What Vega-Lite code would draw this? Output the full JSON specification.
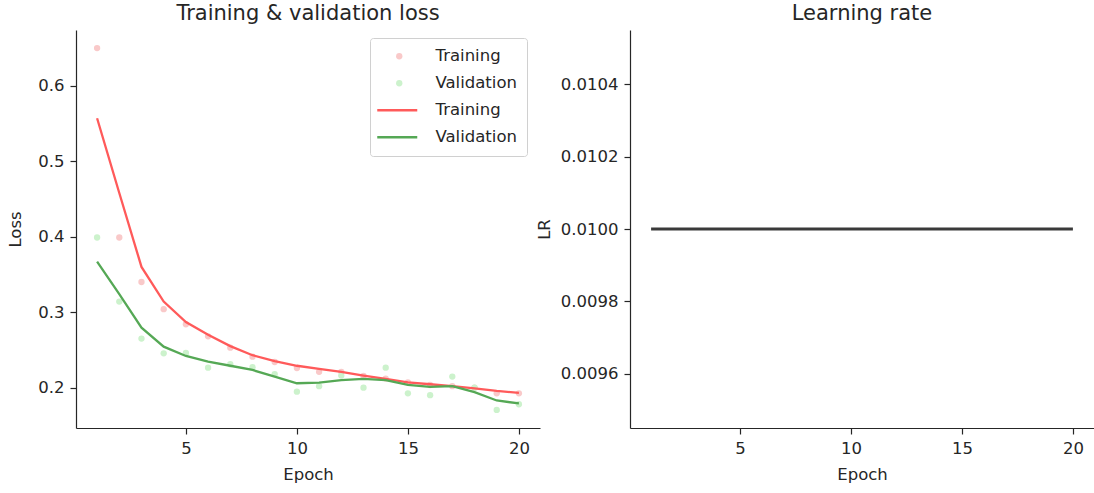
{
  "$schema": "https://vega.github.io/schema/vega-lite/v6.json",
  "background": "white",
  "padding": {"left": 7, "top": 3, "right": 0, "bottom": 0},
  "bounds": "flush",
  "spacing": 90,
  "datasets": {
    "raw": [
      {"epoch": 1, "loss": 0.650, "series": "Training (raw)"},
      {"epoch": 2, "loss": 0.399, "series": "Training (raw)"},
      {"epoch": 3, "loss": 0.340, "series": "Training (raw)"},
      {"epoch": 4, "loss": 0.304, "series": "Training (raw)"},
      {"epoch": 5, "loss": 0.284, "series": "Training (raw)"},
      {"epoch": 6, "loss": 0.268, "series": "Training (raw)"},
      {"epoch": 7, "loss": 0.253, "series": "Training (raw)"},
      {"epoch": 8, "loss": 0.241, "series": "Training (raw)"},
      {"epoch": 9, "loss": 0.234, "series": "Training (raw)"},
      {"epoch": 10, "loss": 0.226, "series": "Training (raw)"},
      {"epoch": 11, "loss": 0.221, "series": "Training (raw)"},
      {"epoch": 12, "loss": 0.221, "series": "Training (raw)"},
      {"epoch": 13, "loss": 0.2155, "series": "Training (raw)"},
      {"epoch": 14, "loss": 0.212, "series": "Training (raw)"},
      {"epoch": 15, "loss": 0.207, "series": "Training (raw)"},
      {"epoch": 16, "loss": 0.2035, "series": "Training (raw)"},
      {"epoch": 17, "loss": 0.202, "series": "Training (raw)"},
      {"epoch": 18, "loss": 0.200, "series": "Training (raw)"},
      {"epoch": 19, "loss": 0.1925, "series": "Training (raw)"},
      {"epoch": 20, "loss": 0.1925, "series": "Training (raw)"},
      {"epoch": 1, "loss": 0.399, "series": "Validation (raw)"},
      {"epoch": 2, "loss": 0.314, "series": "Validation (raw)"},
      {"epoch": 3, "loss": 0.265, "series": "Validation (raw)"},
      {"epoch": 4, "loss": 0.2455, "series": "Validation (raw)"},
      {"epoch": 5, "loss": 0.246, "series": "Validation (raw)"},
      {"epoch": 6, "loss": 0.2265, "series": "Validation (raw)"},
      {"epoch": 7, "loss": 0.231, "series": "Validation (raw)"},
      {"epoch": 8, "loss": 0.227, "series": "Validation (raw)"},
      {"epoch": 9, "loss": 0.218, "series": "Validation (raw)"},
      {"epoch": 10, "loss": 0.1947, "series": "Validation (raw)"},
      {"epoch": 11, "loss": 0.202, "series": "Validation (raw)"},
      {"epoch": 12, "loss": 0.216, "series": "Validation (raw)"},
      {"epoch": 13, "loss": 0.200, "series": "Validation (raw)"},
      {"epoch": 14, "loss": 0.2265, "series": "Validation (raw)"},
      {"epoch": 15, "loss": 0.1925, "series": "Validation (raw)"},
      {"epoch": 16, "loss": 0.190, "series": "Validation (raw)"},
      {"epoch": 17, "loss": 0.2146, "series": "Validation (raw)"},
      {"epoch": 18, "loss": 0.200, "series": "Validation (raw)"},
      {"epoch": 19, "loss": 0.1705, "series": "Validation (raw)"},
      {"epoch": 20, "loss": 0.178, "series": "Validation (raw)"}
    ],
    "smooth": [
      {"epoch": 1, "loss": 0.557, "series": "Training"},
      {"epoch": 2, "loss": 0.458, "series": "Training"},
      {"epoch": 3, "loss": 0.360, "series": "Training"},
      {"epoch": 4, "loss": 0.314, "series": "Training"},
      {"epoch": 5, "loss": 0.287, "series": "Training"},
      {"epoch": 6, "loss": 0.270, "series": "Training"},
      {"epoch": 7, "loss": 0.255, "series": "Training"},
      {"epoch": 8, "loss": 0.243, "series": "Training"},
      {"epoch": 9, "loss": 0.235, "series": "Training"},
      {"epoch": 10, "loss": 0.229, "series": "Training"},
      {"epoch": 11, "loss": 0.2248, "series": "Training"},
      {"epoch": 12, "loss": 0.221, "series": "Training"},
      {"epoch": 13, "loss": 0.216, "series": "Training"},
      {"epoch": 14, "loss": 0.2115, "series": "Training"},
      {"epoch": 15, "loss": 0.207, "series": "Training"},
      {"epoch": 16, "loss": 0.2045, "series": "Training"},
      {"epoch": 17, "loss": 0.202, "series": "Training"},
      {"epoch": 18, "loss": 0.199, "series": "Training"},
      {"epoch": 19, "loss": 0.1956, "series": "Training"},
      {"epoch": 20, "loss": 0.193, "series": "Training"},
      {"epoch": 1, "loss": 0.367, "series": "Validation"},
      {"epoch": 2, "loss": 0.324, "series": "Validation"},
      {"epoch": 3, "loss": 0.2795, "series": "Validation"},
      {"epoch": 4, "loss": 0.2543, "series": "Validation"},
      {"epoch": 5, "loss": 0.242, "series": "Validation"},
      {"epoch": 6, "loss": 0.2344, "series": "Validation"},
      {"epoch": 7, "loss": 0.229, "series": "Validation"},
      {"epoch": 8, "loss": 0.2234, "series": "Validation"},
      {"epoch": 9, "loss": 0.2146, "series": "Validation"},
      {"epoch": 10, "loss": 0.2058, "series": "Validation"},
      {"epoch": 11, "loss": 0.2066, "series": "Validation"},
      {"epoch": 12, "loss": 0.210, "series": "Validation"},
      {"epoch": 13, "loss": 0.2115, "series": "Validation"},
      {"epoch": 14, "loss": 0.210, "series": "Validation"},
      {"epoch": 15, "loss": 0.2036, "series": "Validation"},
      {"epoch": 16, "loss": 0.201, "series": "Validation"},
      {"epoch": 17, "loss": 0.202, "series": "Validation"},
      {"epoch": 18, "loss": 0.194, "series": "Validation"},
      {"epoch": 19, "loss": 0.183, "series": "Validation"},
      {"epoch": 20, "loss": 0.179, "series": "Validation"}
    ],
    "lr": [
      {"epoch": 1, "lr": 0.01}, {"epoch": 2, "lr": 0.01}, {"epoch": 3, "lr": 0.01}, {"epoch": 4, "lr": 0.01},
      {"epoch": 5, "lr": 0.01}, {"epoch": 6, "lr": 0.01}, {"epoch": 7, "lr": 0.01}, {"epoch": 8, "lr": 0.01},
      {"epoch": 9, "lr": 0.01}, {"epoch": 10, "lr": 0.01}, {"epoch": 11, "lr": 0.01}, {"epoch": 12, "lr": 0.01},
      {"epoch": 13, "lr": 0.01}, {"epoch": 14, "lr": 0.01}, {"epoch": 15, "lr": 0.01}, {"epoch": 16, "lr": 0.01},
      {"epoch": 17, "lr": 0.01}, {"epoch": 18, "lr": 0.01}, {"epoch": 19, "lr": 0.01}, {"epoch": 20, "lr": 0.01}
    ]
  },
  "hconcat": [
    {
      "width": 464,
      "height": 398,
      "title": {"text": "Training & validation loss", "fontSize": 21, "font": "DejaVu Sans", "fontWeight": "normal", "color": "#262626", "offset": 6},
      "layer": [
        {
          "data": {"name": "raw"},
          "mark": {"type": "point", "filled": true, "size": 40, "opacity": 1, "shape": "circle"},
          "encoding": {
            "x": {"field": "epoch", "type": "quantitative", "scale": {"domain": [0.05, 20.95], "nice": false, "zero": false}, "axis": {"title": "Epoch", "values": [5, 10, 15, 20], "titlePadding": 10}},
            "y": {"field": "loss", "type": "quantitative", "scale": {"domain": [0.1465, 0.674], "nice": false, "zero": false}, "axis": {"title": "Loss", "values": [0.2, 0.3, 0.4, 0.5, 0.6], "format": ".1f", "titlePadding": 14}},
            "fill": {
              "field": "series", "type": "nominal",
              "scale": {"domain": ["Training (raw)", "Validation (raw)", "Training", "Validation"], "range": ["#f9c9c9", "#ccf2cc", "transparent", "transparent"]},
              "legend": {
                "title": null,
                "orient": "none",
                "legendX": 294,
                "legendY": 8,
                "labelExpr": "replace(datum.label, ' (raw)', '')",
                "labelFont": "DejaVu Sans",
                "labelFontSize": 16.5,
                "labelColor": "#262626",
                "symbolType": "circle",
                "symbolSize": 40,
                "symbolOffset": 11,
                "labelOffset": 28,
                "rowPadding": 10,
                "padding": 10,
                "strokeColor": "#d0d0d0",
                "cornerRadius": 3
              }
            }
          }
        },
        {
          "data": {"name": "smooth"},
          "mark": {"type": "line", "strokeWidth": 2.3},
          "encoding": {
            "x": {"field": "epoch", "type": "quantitative"},
            "y": {"field": "loss", "type": "quantitative"},
            "stroke": {
              "field": "series", "type": "nominal",
              "scale": {"domain": ["Training", "Validation"], "range": ["#ff5a5a", "#55a855"]},
              "legend": {
                "title": null,
                "orient": "none",
                "legendX": 294,
                "legendY": 62,
                "labelExpr": "''",
                "labelFont": "DejaVu Sans",
                "labelFontSize": 16.5,
                "symbolType": "M-4,0H4",
                "symbolSize": 100,
                "symbolStrokeWidth": 2.5,
                "symbolOffset": 9,
                "rowPadding": 10,
                "padding": 10
              }
            }
          }
        }
      ]
    },
    {
      "width": 464,
      "height": 398,
      "title": {"text": "Learning rate", "fontSize": 21, "font": "DejaVu Sans", "fontWeight": "normal", "color": "#262626", "offset": 6},
      "data": {"name": "lr"},
      "mark": {"type": "line", "strokeWidth": 3, "color": "#3a3a3a"},
      "encoding": {
        "x": {"field": "epoch", "type": "quantitative", "scale": {"domain": [0.05, 20.95], "nice": false, "zero": false}, "axis": {"title": "Epoch", "values": [5, 10, 15, 20], "titlePadding": 10}},
        "y": {"field": "lr", "type": "quantitative", "scale": {"domain": [0.00945, 0.01055], "nice": false, "zero": false}, "axis": {"title": "LR", "values": [0.0096, 0.0098, 0.01, 0.0102, 0.0104], "format": ".4f"}}
      }
    }
  ],
  "config": {
    "view": {"stroke": null},
    "font": "DejaVu Sans",
    "axis": {
      "grid": false,
      "labelFont": "DejaVu Sans",
      "titleFont": "DejaVu Sans",
      "labelFontSize": 16.5,
      "titleFontSize": 16.5,
      "titleFontWeight": "normal",
      "labelColor": "#262626",
      "titleColor": "#262626",
      "domainColor": "#262626",
      "tickColor": "#262626",
      "domainWidth": 1.2,
      "tickWidth": 1.2,
      "tickSize": 6,
      "labelPadding": 6,
      "titlePadding": 8
    }
  }
}
